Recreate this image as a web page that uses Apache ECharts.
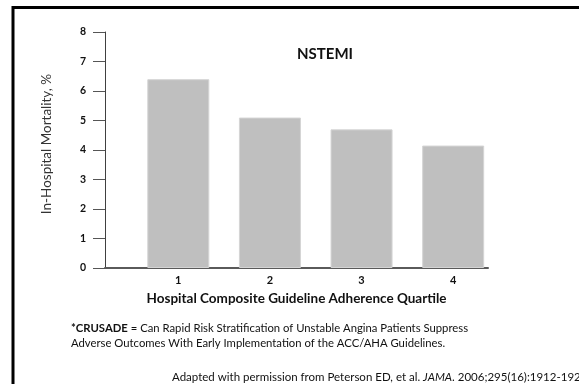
<!DOCTYPE html>
<html>
<head>
<meta charset="utf-8">
<script src="https://cdn.jsdelivr.net/npm/echarts@6/dist/echarts.min.js"></script>
<style>
  html, body { margin: 0; padding: 0; background: #fff; }
  #chart { width: 579px; height: 384px; }
</style>
</head>
<body>
<div id="chart"></div>
<script>
// Guideline adherence quartiles and in-hospital mortality (%)
const quartiles = [1, 2, 3, 4];
const mortality = [6.4, 5.1, 4.7, 4.15];
const yTicks = [0, 1, 2, 3, 4, 5, 6, 7, 8];

const FONT = 'Lato, "Open Sans", sans-serif';

const chart = echarts.init(document.getElementById('chart'), null, { renderer: 'canvas' });

chart.setOption({
  animation: false,
  backgroundColor: '#ffffff',
  grid: { left: 105, right: 91, top: 32, bottom: 116 },
  title: {
    text: 'NSTEMI',
    left: 292, top: 42,
    textStyle: { fontFamily: FONT, fontSize: 15, fontWeight: 'bold', color: '#111' }
  },
  xAxis: {
    type: 'value',
    min: 0.2, max: 4.38,
    axisLine: { show: true, lineStyle: { color: '#5a5a5a', width: 2 } },
    axisTick: { show: false },
    splitLine: { show: false },
    axisLabel: {
      customValues: quartiles,
      margin: 7,
      fontFamily: FONT, fontSize: 11, fontWeight: 'bold', color: '#111'
    },
    name: 'Hospital Composite Guideline Adherence Quartile',
    nameLocation: 'middle',
    nameGap: 24,
    nameTextStyle: { fontFamily: FONT, fontSize: 13.5, fontWeight: 'bold', color: '#111' }
  },
  yAxis: {
    type: 'value',
    min: yTicks[0], max: yTicks[yTicks.length - 1], interval: 1,
    axisLine: { show: true, lineStyle: { color: '#404040', width: 1 } },
    axisTick: { show: true, length: 12, lineStyle: { color: '#555', width: 1 } },
    splitLine: { show: false },
    axisLabel: {
      margin: 19,
      fontFamily: FONT, fontSize: 10.5, fontWeight: 'bold', color: '#111'
    }
  },
  series: [{
    type: 'bar',
    data: quartiles.map((q, i) => [q, mortality[i]]),
    barWidth: 62,
    itemStyle: { color: '#bfbfbf', borderColor: '#d4d4d4', borderWidth: 1 }
  }],
  graphic: [
    {
      type: 'rect', silent: true,
      shape: { x: 13, y: 7.5, width: 700, height: 500 },
      style: { fill: 'none', stroke: '#000', lineWidth: 3 }
    },
    {
      type: 'text', silent: true,
      x: 47, y: 144, rotation: Math.PI / 2,
      style: {
        text: 'In-Hospital Mortality, %',
        fontFamily: FONT, fontSize: 13.5, fill: '#333',
        align: 'center', verticalAlign: 'middle'
      }
    },
    {
      type: 'text', silent: true,
      x: 71, y: 328,
      style: {
        text: '{b|*CRUSADE} = Can Rapid Risk Stratification of Unstable Angina Patients Suppress',
        fontFamily: FONT, fontSize: 11.3, fill: '#111', verticalAlign: 'middle',
        rich: { b: { fontFamily: FONT, fontSize: 11.3, fontWeight: 'bold', fill: '#111' } }
      }
    },
    {
      type: 'text', silent: true,
      x: 71, y: 343,
      style: {
        text: 'Adverse Outcomes With Early Implementation of the ACC/AHA Guidelines.',
        fontFamily: FONT, fontSize: 11.3, fill: '#111', verticalAlign: 'middle'
      }
    },
    {
      type: 'text', silent: true,
      x: 172, y: 377,
      style: {
        text: 'Adapted with permission from Peterson ED, et al. {i|JAMA}. 2006;295(16):1912-1920',
        fontFamily: FONT, fontSize: 11.5, fill: '#111', verticalAlign: 'middle',
        rich: { i: { fontFamily: FONT, fontSize: 11.5, fontStyle: 'italic', fill: '#111' } }
      }
    }
  ]
});
</script>
</body>
</html>
